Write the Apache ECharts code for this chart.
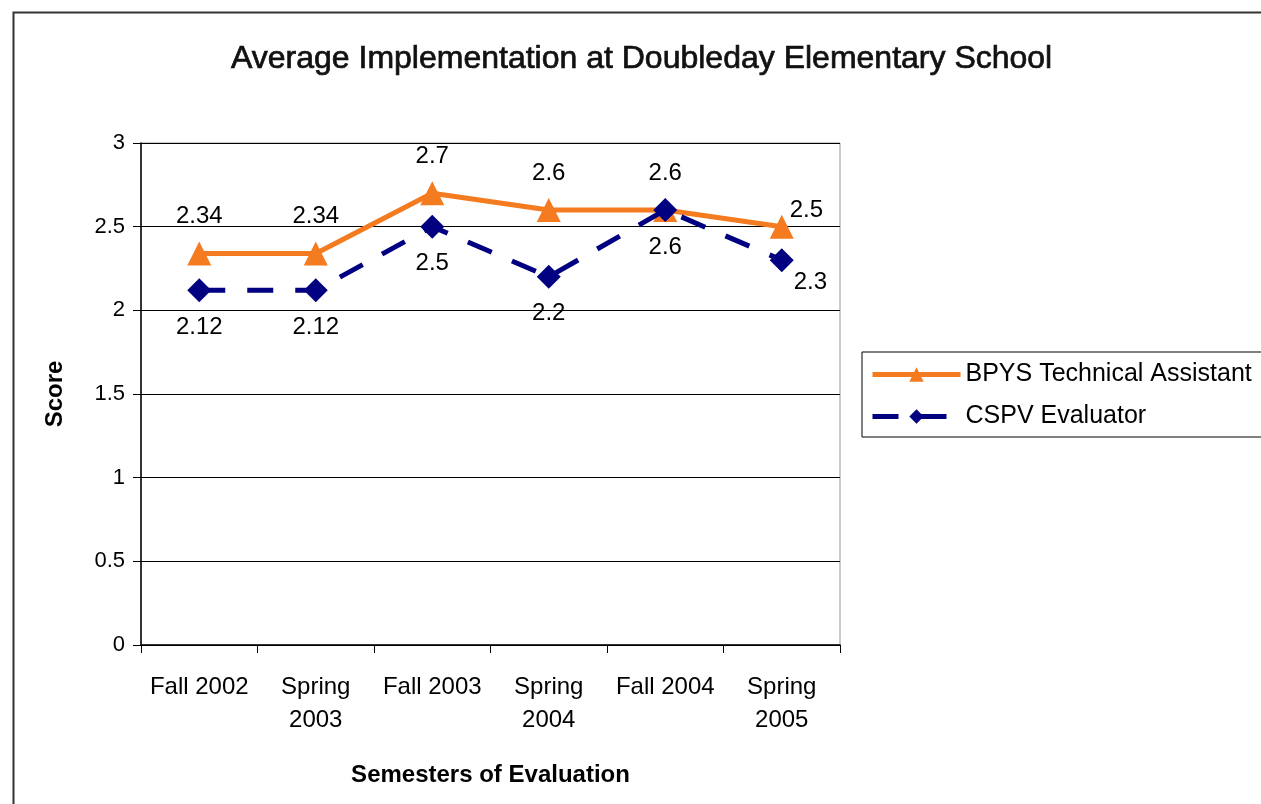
<!DOCTYPE html>
<html lang="en">
<head>
    <meta charset="UTF-8">
    <title>Average Implementation</title>
    <script src="https://cdn.jsdelivr.net/npm/echarts@6/dist/echarts.min.js"></script>
</head>
<body style="margin:0;background:#fff;">
    <div id="main" style="width:1261px;height:804px;"></div>
<script type="text/javascript">
    // 数据
    var semesters = ['Fall 2002', 'Spring\n2003', 'Fall 2003', 'Spring\n2004', 'Fall 2004', 'Spring\n2005'];
    var bpysScores = [2.34, 2.34, 2.7, 2.6, 2.6, 2.5];
    var cspvScores = [2.12, 2.12, 2.5, 2.2, 2.6, 2.3];
    var yTicks = [0, 0.5, 1, 1.5, 2, 2.5, 3];

    var myChart = echarts.init(document.getElementById('main'));
    var font = 'Liberation Sans, Arial, sans-serif';

    // 最后一个点的标签放在右边
    function labelled(values, lastLabel) {
        return values.map(function (v, i) {
            var item = { value: v };
            if (i === values.length - 1) {
                item.label = lastLabel;
            }
            return item;
        });
    }

    var option = {
        backgroundColor: '#fff',
        animation: false,
        graphic: [{
            type: 'rect',
            left: 11, top: 10,
            shape: { width: 1400, height: 900 },
            style: { fill: 'none', stroke: '#333', lineWidth: 2 }
        }],
        title: {
            text: 'Average Implementation at Doubleday Elementary School',
            left: 226,
            top: 38,
            textStyle: { fontFamily: font, fontSize: 32, fontWeight: 'normal', color: '#111',
                textBorderColor: '#111', textBorderWidth: 0.7 }
        },
        legend: {
            left: 862,
            top: 352,
            orient: 'vertical',
            itemWidth: 88,
            itemHeight: 18,
            itemGap: 17,
            padding: [10, 40, 8, 8],
            borderColor: '#000',
            borderWidth: 1,
            lineStyle: { width: 5 },
            textStyle: { fontFamily: font, fontSize: 25, color: '#000' },
            data: ['BPYS Technical Assistant', 'CSPV Evaluator']
        },
        grid: {
            left: 141, top: 143, right: 421, bottom: 159,
            show: true, borderColor: '#999', borderWidth: 1
        },
        xAxis: {
            type: 'category',
            data: semesters,
            name: 'Semesters of Evaluation',
            nameLocation: 'middle',
            nameGap: 118,
            nameTextStyle: { fontFamily: font, fontSize: 24, fontWeight: 'bold', color: '#000' },
            axisLine: { lineStyle: { color: '#000', width: 1.5 } },
            axisTick: { show: true, interval: 0, length: 8, lineStyle: { color: '#000' } },
            axisLabel: { interval: 0, fontFamily: font, fontSize: 24, color: '#000', margin: 26, lineHeight: 33 }
        },
        yAxis: {
            type: 'value',
            min: yTicks[0],
            max: yTicks[yTicks.length - 1],
            interval: 0.5,
            name: 'Score',
            nameLocation: 'middle',
            nameRotate: 90,
            nameGap: 74,
            nameTextStyle: { fontFamily: font, fontSize: 24, fontWeight: 'bold', color: '#000' },
            axisLine: { show: true, lineStyle: { color: '#000', width: 1.5 } },
            axisTick: { show: true, length: 8, lineStyle: { color: '#000' } },
            axisLabel: { fontFamily: font, fontSize: 22, color: '#000', margin: 16 },
            splitLine: { lineStyle: { color: '#000', width: 1.2 } }
        },
        series: [
            {
                name: 'BPYS Technical Assistant',
                type: 'line',
                data: labelled(bpysScores, { position: 'right', offset: [-6, -16], distance: 2 }),
                symbol: 'triangle',
                symbolSize: 24,
                color: '#F47B20',
                lineStyle: { width: 5, color: '#F47B20' },
                label: { show: true, position: 'top', distance: 13, fontFamily: font, fontSize: 24, color: '#000' },
                z: 2
            },
            {
                name: 'CSPV Evaluator',
                type: 'line',
                data: labelled(cspvScores, { position: 'right', offset: [-2, 22], distance: 2 }),
                symbol: 'diamond',
                symbolSize: 24,
                color: '#000080',
                lineStyle: { width: 5, color: '#000080', type: [26, 22] },
                label: { show: true, position: 'bottom', distance: 13, fontFamily: font, fontSize: 24, color: '#000' },
                z: 3
            }
        ]
    };

    myChart.setOption(option);
</script>
</body>
</html>
